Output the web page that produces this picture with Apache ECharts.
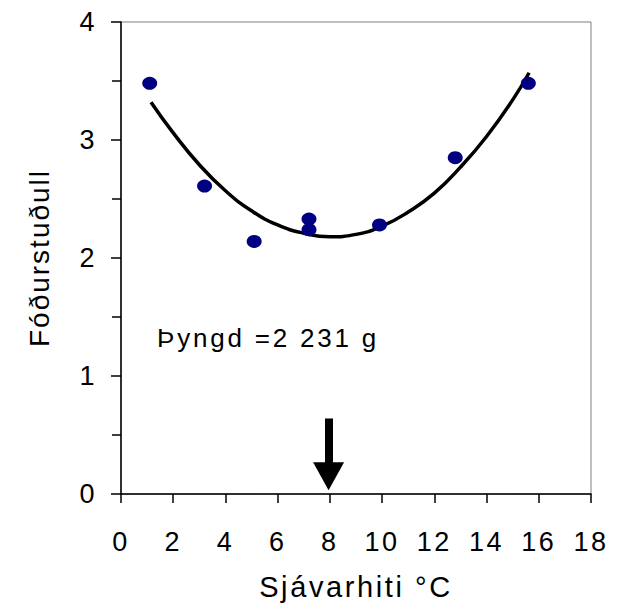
<!DOCTYPE html>
<html><head><meta charset="utf-8">
<script src="https://cdn.jsdelivr.net/npm/echarts@6/dist/echarts.min.js"></script>
<style>html,body{margin:0;padding:0;background:#fff}#c{width:623px;height:609px}</style>
</head><body><div id="c"></div>
<script>
var pointsX = [1.1, 3.2, 5.1, 7.2, 7.2, 9.9, 12.8, 15.6];
var pointsY = [3.48, 2.61, 2.14, 2.33, 2.24, 2.28, 2.85, 3.48];
var curveX = [1.15, 2, 3, 4, 5, 6, 7, 8, 9, 10, 11, 12, 13, 14, 15, 15.63];
var curveY = [3.32, 3.06, 2.79, 2.57, 2.40, 2.28, 2.21, 2.18, 2.20, 2.27, 2.39, 2.55, 2.77, 3.03, 3.34, 3.57];
var arrowX = [7.95, 7.95];
var arrowY = [0.64, 0.15];
var xTitle = 'Sjávarhiti °C';
var yTitle = 'Fóðurstuðull';
var note = 'Þyngd =2 231 g';

var font = 'Liberation Sans';
var chart = echarts.init(document.getElementById('c'), null, {renderer: 'svg'});
chart.setOption({
  animation: false,
  grid: {left: 121, right: 32, top: 22, bottom: 115, show: true, borderColor: '#808080', borderWidth: 1},
  xAxis: {
    type: 'value', min: 0, max: 18, interval: 2,
    name: xTitle, nameLocation: 'middle', nameGap: 78,
    nameTextStyle: {fontFamily: font, fontSize: 29, color: '#000'},
    axisLine: {show: true, onZero: false, lineStyle: {color: '#000', width: 1.5}},
    axisTick: {show: true, inside: false, length: 9, lineStyle: {color: '#000', width: 1.5}},
    axisLabel: {fontFamily: font, fontSize: 27, color: '#000', margin: 34},
    splitLine: {show: false}
  },
  yAxis: {
    type: 'value', min: 0, max: 4, interval: 1,
    name: yTitle, nameLocation: 'middle', nameGap: 68, nameRotate: 90,
    nameTextStyle: {fontFamily: font, fontSize: 28, color: '#000'},
    axisLine: {show: true, onZero: false, lineStyle: {color: '#000', width: 1.5}},
    axisTick: {show: true, inside: false, length: 10, lineStyle: {color: '#000', width: 1.5}},
    minorTick: {show: true, splitNumber: 2, length: 9, lineStyle: {color: '#000', width: 1.5}},
    axisLabel: {fontFamily: font, fontSize: 27, color: '#000', margin: 24},
    splitLine: {show: false}
  },
  graphic: [{
    type: 'text', left: 157, top: 325,
    style: {text: note, fontFamily: font, fontSize: 26, fill: '#000'}
  }],
  series: [{
    type: 'line', smooth: 0.5, symbol: 'none',
    data: curveX.map(function(x, i){ return [x, curveY[i]]; }),
    lineStyle: {color: '#000', width: 3.5},
    z: 2
  }, {
    type: 'scatter',
    data: pointsX.map(function(x, i){ return [x, pointsY[i]]; }),
    symbol: 'circle', symbolSize: [15, 13],
    itemStyle: {color: '#000080', opacity: 1},
    z: 3
  }, {
    type: 'line', data: [], symbol: 'none',
    markLine: {
      silent: true, animation: false,
      symbol: ['none', 'triangle'], symbolSize: [31, 28],
      label: {show: false},
      lineStyle: {color: '#000', width: 8, type: 'solid'},
      data: [[{coord: [arrowX[0], arrowY[0]]}, {coord: [arrowX[1], arrowY[1]]}]]
    }
  }]
});
var spacingBySize = {'27px': 2.5, '28px': 2, '29px': 2.6, '26px': 2.8};
function applySpacing() {
  var texts = document.querySelectorAll('#c svg text');
  for (var i = 0; i < texts.length; i++) {
    var fs = window.getComputedStyle(texts[i]).fontSize;
    var s = spacingBySize[fs];
    if (s) texts[i].setAttribute('letter-spacing', s);
  }
}
chart.on('finished', applySpacing);
setTimeout(applySpacing, 50);
setTimeout(applySpacing, 300);
</script></body></html>
